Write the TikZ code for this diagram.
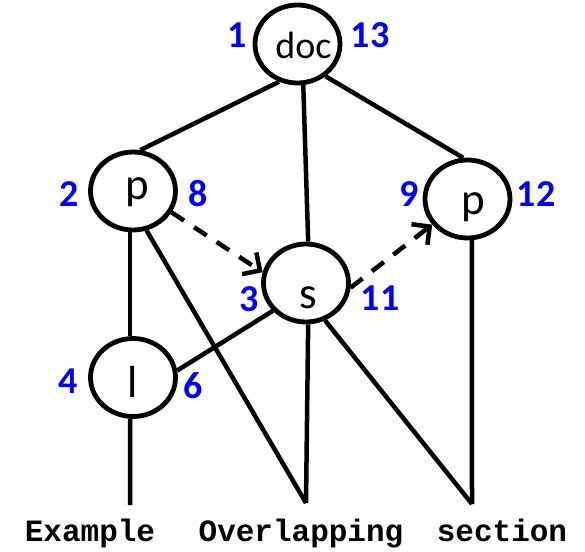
\documentclass[tikz,border=0pt]{standalone}
\usepackage{fontspec}
\setmainfont{Carlito}
\newfontfamily\monob{Liberation Mono}
\usetikzlibrary{shapes.geometric,arrows.meta}
\begin{document}
\begin{tikzpicture}[x=1pt,y=-1pt,
  vert/.style={ellipse,draw,line width=4.8pt,minimum width=85pt,minimum height=78pt,
    inner sep=0pt,text height=0pt,text depth=0pt,font=\fontsize{45}{45}\selectfont},
  edge/.style={line width=4.5pt},
  darrow/.style={line width=4.5pt,dash pattern=on 15pt off 12pt,
    -{Straight Barb[length=13pt,width=26pt]}},
  num/.style={text=blue,font=\fontsize{38}{38}\selectfont\bfseries,inner sep=0pt},
  word/.style={anchor=base,font=\monob\bfseries\fontsize{31}{31}\selectfont,inner sep=0pt}]
\useasboundingbox (0,0) rectangle (585,551);

% vertices
\node[vert,font=\fontsize{38}{38}\selectfont] (doc) at (297.5,44) {\makebox[0pt]{\hspace*{12pt}\raisebox{-14pt}{doc}}};
\node[vert] (pL) at (133,191) {\makebox[0pt]{\hspace*{8pt}\raisebox{-8pt}{p}}};
\node[vert] (pR) at (467.5,199) {\makebox[0pt]{\hspace*{12pt}\raisebox{-15pt}{p}}};
\node[vert] (s) at (306,283) {\makebox[0pt]{\hspace*{4pt}\raisebox{-25pt}{s}}};
\node[vert] (l) at (133,377.5) {\makebox[0pt]{\raisebox{-20pt}{l}}};

% leaf ends
\coordinate (ex) at (130,505);
\coordinate (ov) at (306,503);
\coordinate (sec) at (472,504);

% tree edges
\draw[edge] (doc.-116.6) -- (pL.80.5);
\draw[edge] (doc.-82.5) -- (s.87);
\draw[edge] (doc.-49.7) -- (pR.96);
\draw[edge] (pL.-94) -- (l.94);
\draw[edge] (pL.-71) -- (ov);
\draw[edge] (l.9.5) -- (s.-140);
\draw[edge] (l.-94) -- (ex);
\draw[edge] (s.-87) -- (ov);
\draw[edge] (s.-63) -- (sec);
\draw[edge] (pR.-84) -- (sec);

% dashed arrows
\draw[darrow] (pL.-29) -- (s.166);
\draw[darrow] (s.-6) -- (pR.216);

% numbers
\node[num] (n1) at (237,35) {1};
\node[num] (n13) at (370,35) {13};
\node[num] (n2) at (69,194) {2};
\node[num] (n8) at (198,194) {8};
\node[num] (n9) at (409,194) {9};
\node[num] (n12) at (536,194) {12};
\node[num] (n3) at (249,299) {3};
\node[num] (n11) at (380,298) {11};
\node[num] (n4) at (68,381) {4};
\node[num] (n6) at (193,386) {6};

% words
\node[word] (wEx) at (90,541) {Example};
\node[word] (wOv) at (301,541) {Overlapping};
\node[word] (wSec) at (502,541) {section};
\end{tikzpicture}
\end{document}
